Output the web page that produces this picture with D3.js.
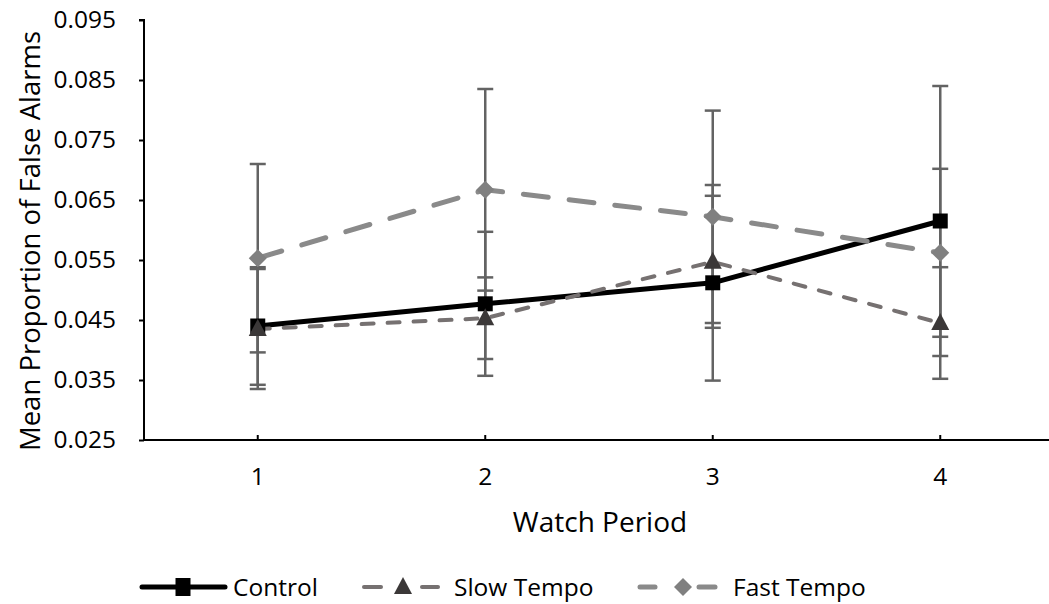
<!DOCTYPE html>
<html><head><meta charset="utf-8">
<script src="https://cdn.jsdelivr.net/npm/d3@7"></script>
<style>body{margin:0;background:#fff}svg{display:block}text{font-family:"Open Sans",sans-serif;fill:#000}</style>
</head><body>
<svg id="c" width="1049" height="604"></svg>
<script>
const categories = ["1", "2", "3", "4"];
const controlValues = [0.0440, 0.0477, 0.0512, 0.0615];
const controlErrors = [0.0098, 0.0120, 0.0163, 0.0225];
const slowValues = [0.0435, 0.0453, 0.0547, 0.0445];
const slowErrors = [0.0100, 0.0068, 0.0110, 0.0093];
const fastValues = [0.0553, 0.0667, 0.0622, 0.0562];
const fastErrors = [0.0157, 0.0168, 0.0177, 0.0140];
const yTicks = [0.025, 0.035, 0.045, 0.055, 0.065, 0.075, 0.085, 0.095];
const seriesNames = ["Control", "Slow Tempo", "Fast Tempo"];

const svg = d3.select("#c");
const plotLeft = 144, plotTop = 20, plotBottom = 440;
const x = d3.scaleBand().domain(categories).range([plotLeft, plotLeft + 4 * 227.5]);
const cx = c => x(c) + x.bandwidth() / 2;
const y = d3.scaleLinear().domain([0.025, 0.095]).range([plotBottom, plotTop]);

const series = [
  {name: seriesNames[0], vals: controlValues, errs: controlErrors, color: "#000", width: 5, dash: null, marker: "square", mfill: "#000"},
  {name: seriesNames[1], vals: slowValues, errs: slowErrors, color: "#767171", width: 4, dash: "12,14", marker: "triangle", mfill: "#3b3838"},
  {name: seriesNames[2], vals: fastValues, errs: fastErrors, color: "#8a8a8a", width: 5, dash: "25,21", marker: "diamond", mfill: "#808080"}
];

// Y axis
const yAxis = d3.axisLeft(y).tickValues(yTicks).tickFormat(d3.format(".3f")).tickSize(5).tickPadding(23);
const gy = svg.append("g").attr("transform", `translate(${plotLeft},0)`).call(yAxis);
gy.select(".domain").attr("stroke", "#000").attr("stroke-width", 2).attr("d", `M-5,${plotTop}H0V${plotBottom}`);
gy.selectAll(".tick line").attr("stroke", "#000").attr("stroke-width", 2);
gy.selectAll(".tick text").style("font-size", "24.5px").attr("fill", "#000").style("font-family", '"Open Sans",sans-serif');

// X axis
const xAxis = d3.axisBottom(x).tickSize(-5).tickPadding(0);
const gx = svg.append("g").attr("transform", `translate(0,${plotBottom})`).call(xAxis);
gx.select(".domain").attr("stroke", "#000").attr("stroke-width", 2).attr("d", `M${plotLeft},0H1049`);
gx.selectAll(".tick line").attr("stroke", "#000").attr("stroke-width", 2);
gx.selectAll(".tick text").style("font-size", "24.5px").attr("fill", "#000").attr("y", 0).attr("dy", "1.85em").style("font-family", '"Open Sans",sans-serif');

// error bars
series.forEach(s => {
  const g = svg.append("g");
  categories.forEach((c, i) => {
    const xx = cx(c), hi = y(s.vals[i] + s.errs[i]), lo = y(s.vals[i] - s.errs[i]);
    g.append("line").attr("x1", xx).attr("x2", xx).attr("y1", hi).attr("y2", lo).attr("stroke", "#636363").attr("stroke-width", 2.5);
    [hi, lo].forEach(yy => g.append("line").attr("x1", xx - 8).attr("x2", xx + 8).attr("y1", yy).attr("y2", yy).attr("stroke", "#636363").attr("stroke-width", 2.5));
  });
});

function markerPath(type) {
  if (type === "square") return "M-7.5,-7.5H7.5V7.5H-7.5Z";
  if (type === "triangle") return "M0,-10L9,7H-9Z";
  return "M0,-9L9,0L0,9L-9,0Z";
}

// lines
const line = d3.line().x((d, i) => cx(categories[i])).y(d => y(d));
series.forEach(s => {
  const p = svg.append("path").datum(s.vals).attr("d", line).attr("fill", "none")
    .attr("stroke", s.color).attr("stroke-width", s.width).attr("stroke-linejoin", "round");
  if (s.dash) p.attr("stroke-dasharray", s.dash).attr("stroke-linecap", "round");
});
series.forEach(s => {
  svg.append("g").selectAll("path").data(s.vals).join("path")
    .attr("d", markerPath(s.marker)).attr("fill", s.mfill)
    .attr("transform", (d, i) => `translate(${cx(categories[i])},${y(d)})`);
});

// axis titles
svg.append("text").attr("x", 600).attr("y", 532).attr("text-anchor", "middle").style("font-size", "28px").text("Watch Period");
svg.append("text").attr("transform", "translate(40,241) rotate(-90)").attr("text-anchor", "middle").style("font-size", "27.5px").text("Mean Proportion of False Alarms");

// legend
const ly = 587;
const lg = svg.append("g");
lg.append("line").attr("x1", 142).attr("x2", 225).attr("y1", ly).attr("y2", ly).attr("stroke", "#000").attr("stroke-width", 5).attr("stroke-linecap", "round");
lg.append("path").attr("d", "M-7.5,-9H7.5V9H-7.5Z").attr("transform", `translate(183,${ly})`).attr("fill", "#000");
lg.append("text").attr("x", 233).attr("y", ly).attr("dy", "0.35em").style("font-size", "24.5px").text(seriesNames[0]);

[[364, 381], [422, 438]].forEach(([a, b]) => lg.append("line").attr("x1", a).attr("x2", b).attr("y1", ly).attr("y2", ly).attr("stroke", "#767171").attr("stroke-width", 4).attr("stroke-linecap", "round"));
lg.append("path").attr("d", markerPath("triangle")).attr("transform", `translate(403,${ly})`).attr("fill", "#3b3838");
lg.append("text").attr("x", 454).attr("y", ly).attr("dy", "0.35em").style("font-size", "24.5px").text(seriesNames[1]);

[[640, 655], [699, 715]].forEach(([a, b]) => lg.append("line").attr("x1", a).attr("x2", b).attr("y1", ly).attr("y2", ly).attr("stroke", "#8a8a8a").attr("stroke-width", 5).attr("stroke-linecap", "round"));
lg.append("path").attr("d", markerPath("diamond")).attr("transform", `translate(683,${ly})`).attr("fill", "#808080");
lg.append("text").attr("x", 733).attr("y", ly).attr("dy", "0.35em").style("font-size", "24.5px").text(seriesNames[2]);
</script>
</body></html>
